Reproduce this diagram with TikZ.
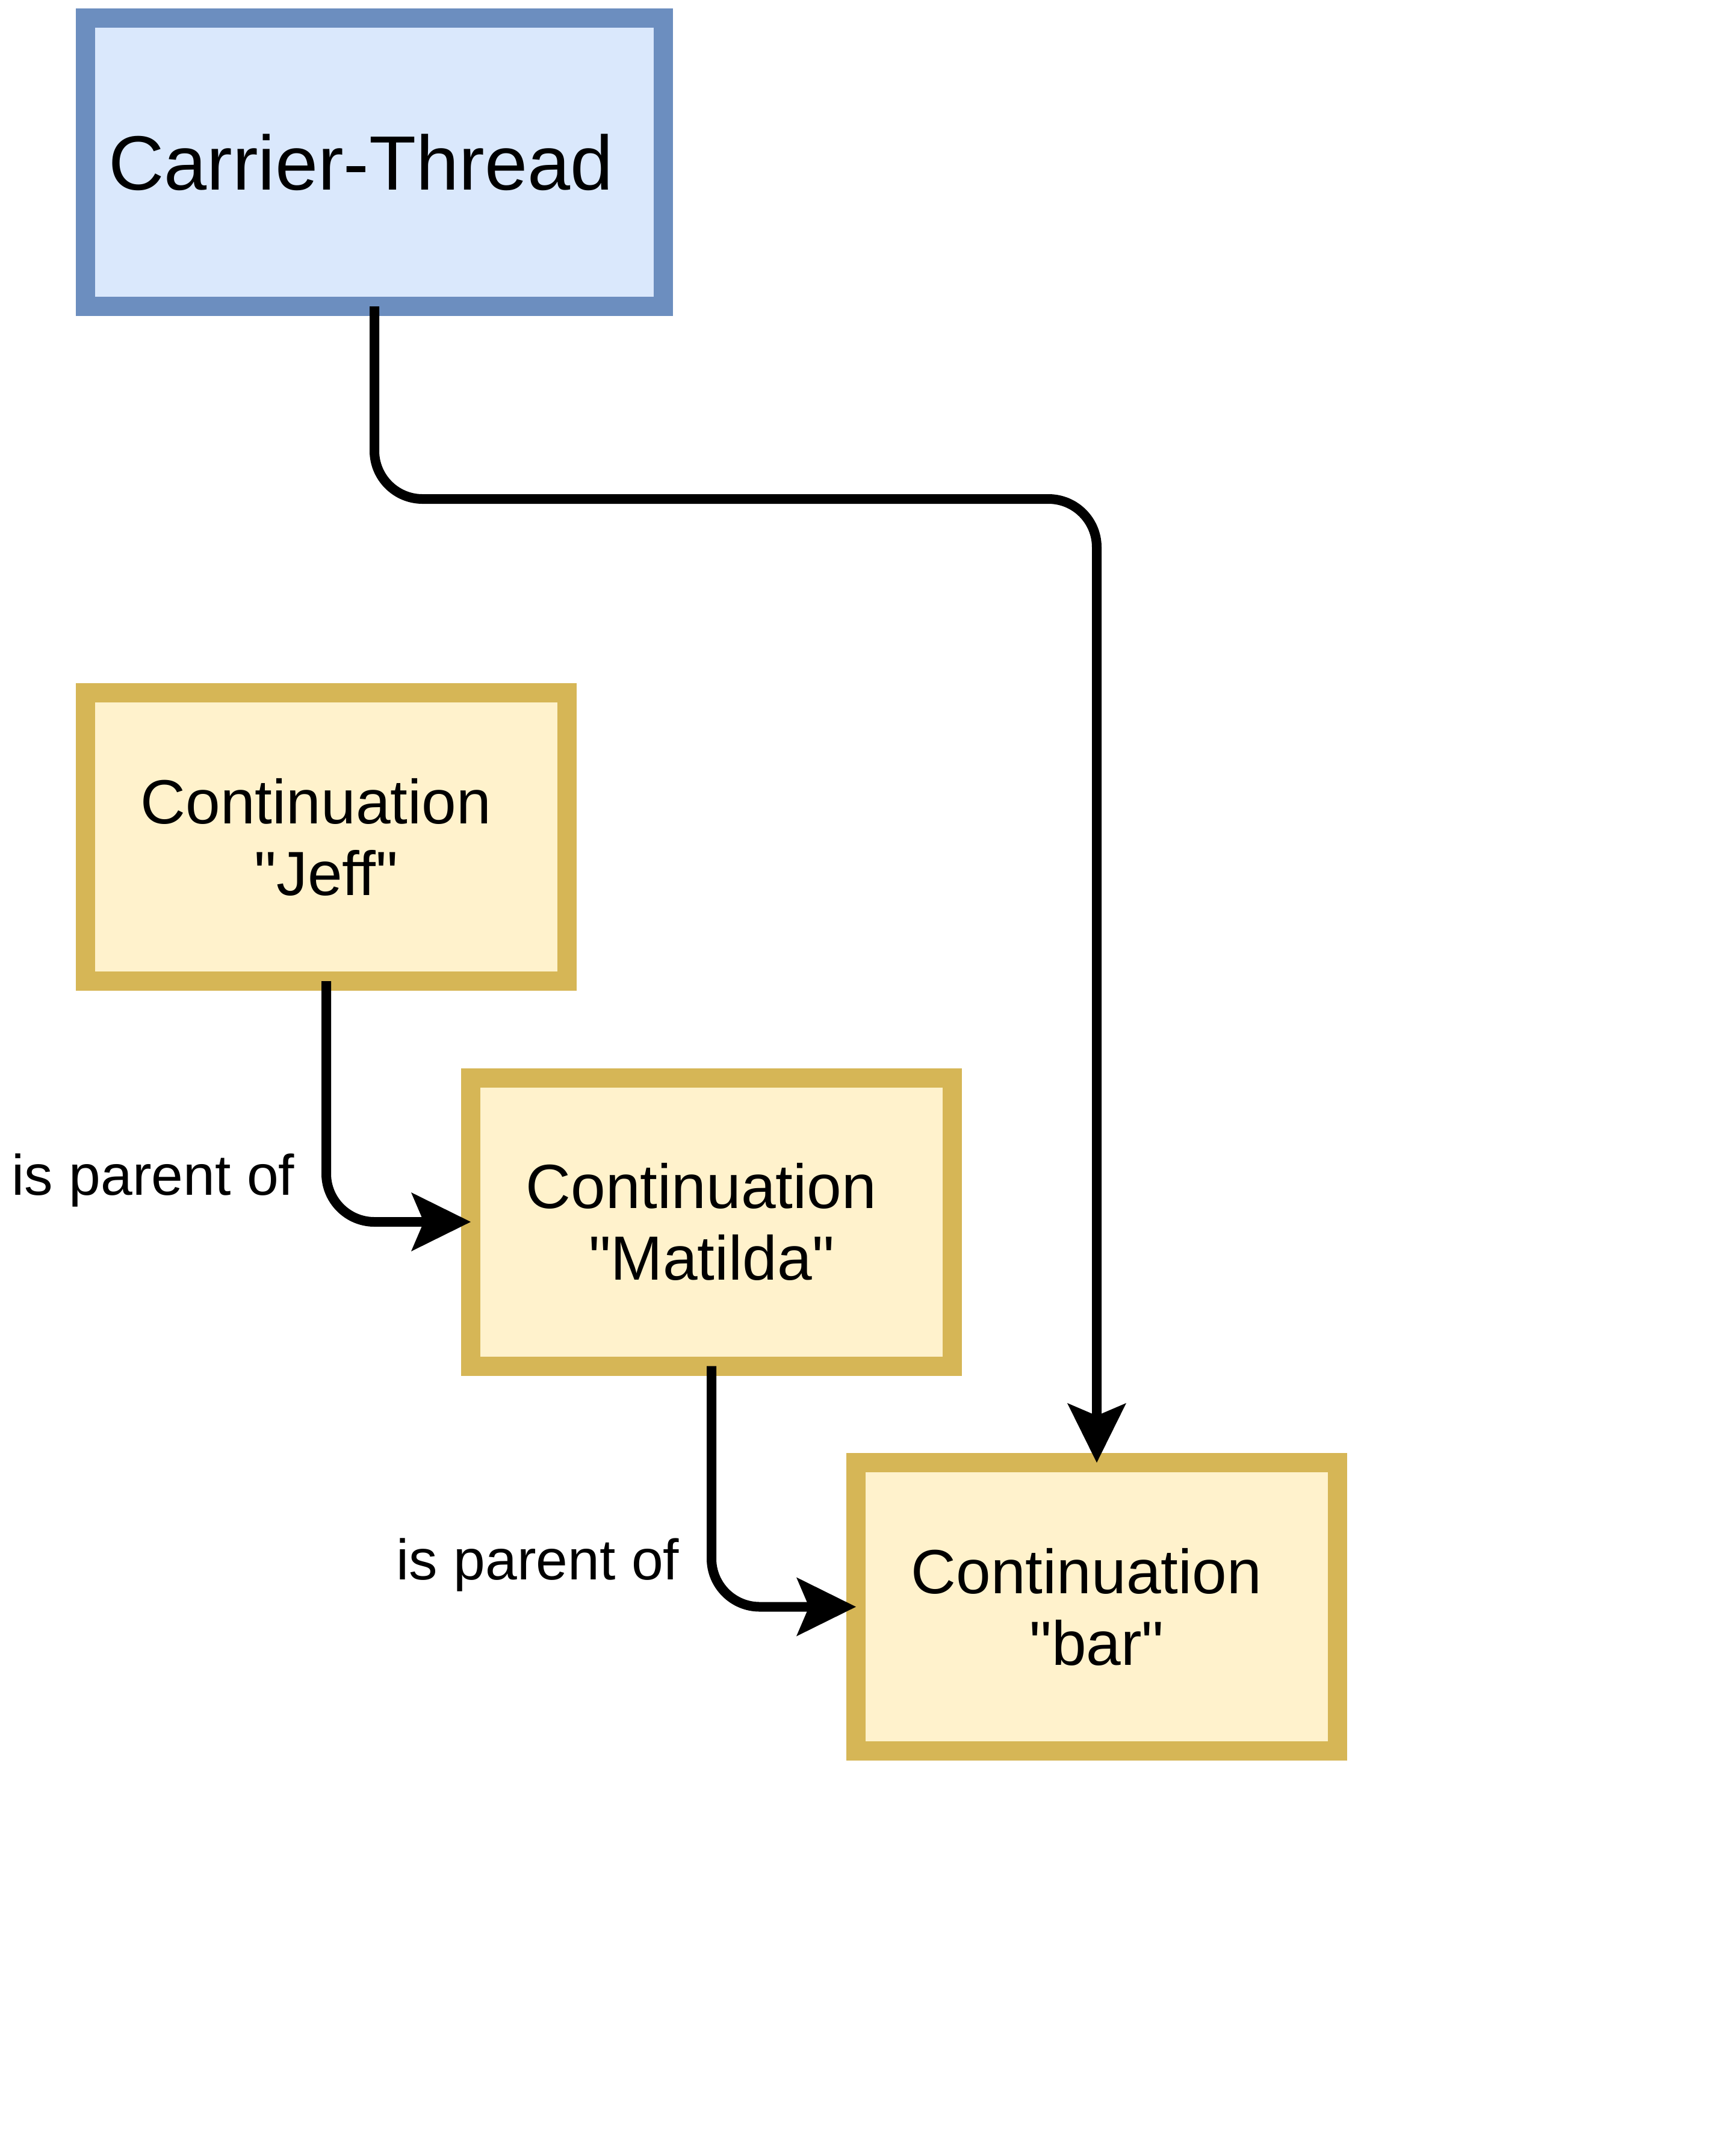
\documentclass[tikz,border=0pt]{standalone}
\usepackage{fontspec}
\setmainfont{Liberation Sans}
\usepackage{tikz}
\usetikzlibrary{positioning}
\usetikzlibrary {arrows.meta}

\definecolor{threadfill}{HTML}{DAE8FC}
\definecolor{threadline}{HTML}{6C8EBF}
\definecolor{contfill}{HTML}{FFF2CC}
\definecolor{contline}{HTML}{D6B656}

\begin{document}
\begin{tikzpicture}[
  threadbox/.style={draw=threadline,fill=threadfill,line width=.32cm,minimum width=9.6cm,minimum height=4.79cm,outer sep=0pt},
  contbox/.style={draw=contline,fill=contfill,line width=.32cm,minimum width=8cm,minimum height=4.79cm,outer sep=0pt,align=center},
  link/.style={line width=.16cm,rounded corners=.8cm,-{Stealth[length=.99cm,width=.98cm,inset=.21cm,line width=0pt]}}
]

\def\threadfont{\fontsize{36.4}{41}\selectfont}
\def\boxfont{\fontsize{29.5}{33.9}\selectfont}
\def\labfont{\fontsize{27}{31}\selectfont}
\def\q{\textquotedbl}

\useasboundingbox (0,0) rectangle (28.84,-35.72);

\node[threadbox,font=\threadfont,text width=8.84cm,align=left] (thread) at (6.22,-2.695) {Carrier-Thread};

\node[contbox,font=\boxfont] (jeff) at (5.42,-13.905) {Continuation\kern.33em\\\q Jeff\q};
\node[contbox,font=\boxfont] (matilda) at (11.82,-20.30) {Continuation\kern.33em\\\q Matilda\q};
\node[contbox,font=\boxfont] (bar) at (18.22,-26.695) {Continuation\kern.33em\\\q bar\q};

\node[font=\labfont,inner sep=0pt,anchor=base east] (lab1) at (4.90,-19.85) {is parent of};
\node[font=\labfont,inner sep=0pt,anchor=base east] (lab2) at (11.29,-26.24) {is parent of};

\draw[link] (thread.south) -- ++(0,-3.2) -| (bar.north);
\draw[link] (jeff.south) |- (matilda.west);
\draw[link] (matilda.south) |- (bar.west);
\end{tikzpicture}
\end{document}
